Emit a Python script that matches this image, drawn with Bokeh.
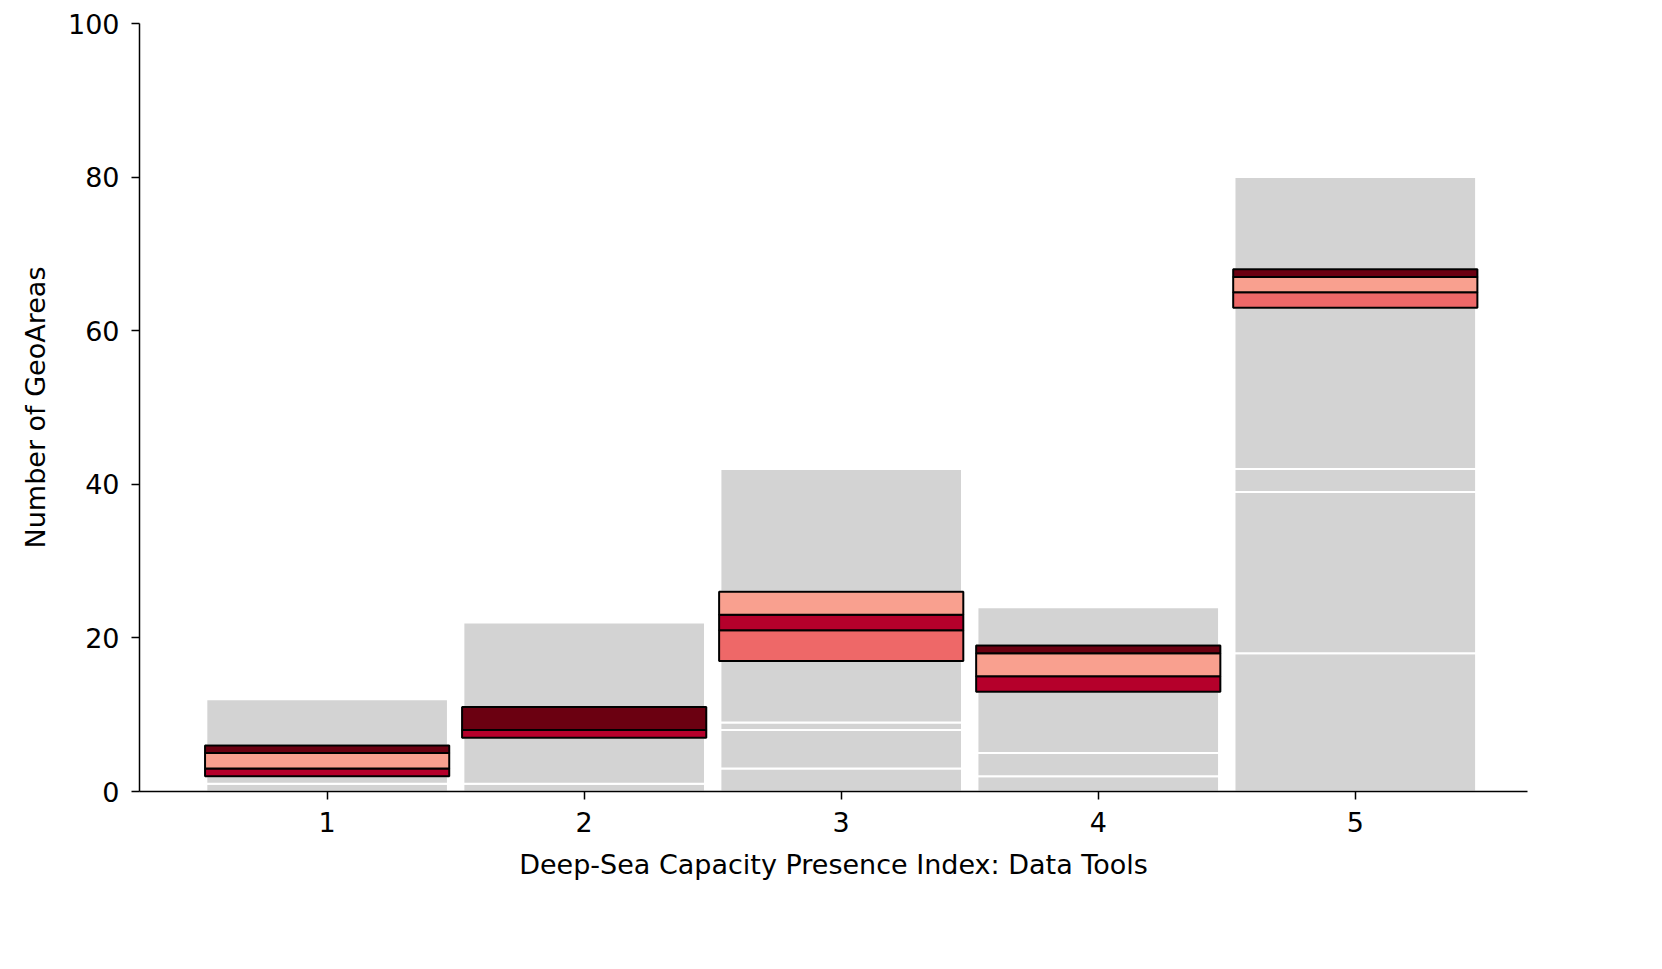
from bokeh.plotting import figure
from bokeh.models import ColumnDataSource, FixedTicker, Range1d
from bokeh.embed import file_html
from bokeh.resources import INLINE

# grey stacked segments: (index, bottom, top)
grey_x = [1, 1, 1, 2, 2, 2, 3, 3, 3, 3, 3, 4, 4, 4, 4, 5, 5, 5, 5, 5]
grey_bottom = [0, 1, 6, 0, 1, 11, 0, 3, 8, 9, 26, 0, 2, 5, 19, 0, 18, 39, 42, 68]
grey_top = [1, 2, 12, 1, 7, 22, 3, 8, 9, 17, 42, 2, 5, 13, 24, 18, 39, 42, 63, 80]

# highlighted segments
hi_x = [1, 1, 1, 2, 2, 3, 3, 3, 4, 4, 4, 5, 5, 5]
hi_bottom = [2, 3, 5, 7, 8, 17, 21, 23, 13, 15, 18, 63, 65, 67]
hi_top = [3, 5, 6, 8, 11, 21, 23, 26, 15, 18, 19, 65, 67, 68]
hi_color = ["#b5002b", "#f9a08f", "#6b0011",
            "#b5002b", "#6b0011",
            "#ee6868", "#b5002b", "#f9a08f",
            "#b5002b", "#f9a08f", "#6b0011",
            "#ee6868", "#f9a08f", "#6b0011"]

p = figure(width=1547, height=900, output_backend="svg", toolbar_location=None,
           x_range=Range1d(0.27, 5.67), y_range=Range1d(0, 100),
           min_border_left=139, min_border_top=23, min_border_right=20,
           min_border_bottom=109)
p.grid.visible = False
p.outline_line_color = None

grey = ColumnDataSource(dict(x=grey_x, bottom=grey_bottom, top=grey_top))
p.vbar(x="x", bottom="bottom", top="top", width=0.94, source=grey,
       fill_color="#d3d3d3", line_color="white", line_width=2)

hi = ColumnDataSource(dict(x=hi_x, bottom=hi_bottom, top=hi_top, color=hi_color))
p.vbar(x="x", bottom="bottom", top="top", width=0.95, source=hi,
       fill_color="color", line_color="black", line_width=2)

p.xaxis.ticker = FixedTicker(ticks=[1, 2, 3, 4, 5])
p.yaxis.ticker = FixedTicker(ticks=[0, 20, 40, 60, 80, 100])
p.xaxis.axis_label = "Deep-Sea Capacity Presence Index: Data Tools"
p.yaxis.axis_label = "Number of GeoAreas"
for ax in (p.xaxis[0], p.yaxis[0]):
    ax.major_label_text_font = "DejaVu Sans"
    ax.major_label_text_font_size = "27px"
    ax.axis_label_text_font = "DejaVu Sans"
    ax.axis_label_text_font_size = "27px"
    ax.axis_label_text_font_style = "normal"
    ax.minor_tick_line_color = None
    ax.major_tick_in = 0
    ax.major_tick_out = 8
    ax.major_tick_line_width = 1.5
    ax.axis_line_width = 1.5
    ax.major_label_text_color = "black"
    ax.axis_label_text_color = "black"
    ax.major_label_standoff = 12
    ax.axis_label_standoff = 14

open("out.html", "w").write(file_html(p, INLINE))
